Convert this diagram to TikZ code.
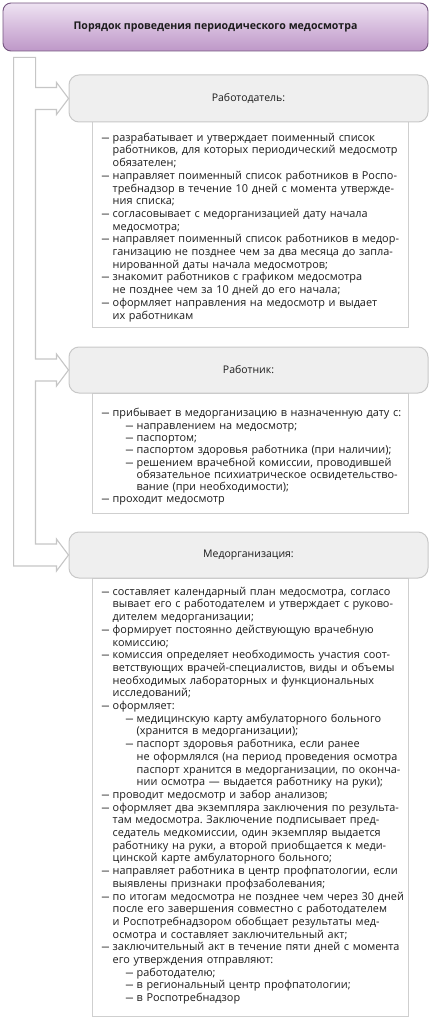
\documentclass[tikz,border=0pt]{standalone}
\usepackage{fontspec}
\setmainfont{Open Sans}
\usetikzlibrary{calc}
\frenchspacing
\definecolor{ttop}{HTML}{EEE3F2}
\definecolor{tmid}{HTML}{D6BCDD}
\definecolor{tbot}{HTML}{BE98C8}
\definecolor{tline}{HTML}{74557F}
\definecolor{hfill}{HTML}{EFEFEF}
\definecolor{hline}{HTML}{C8C8C8}
\definecolor{cline}{HTML}{CFCFCF}
\definecolor{bandline}{HTML}{C6C6C6}
\definecolor{txt}{HTML}{1C1C1C}
\newcommand\mydash{\makebox[11pt][l]{\scalebox{0.72}[1]{—}}}
\newcommand\myitem{\par\hangindent=11pt\hangafter=1\noindent\mydash}
\newcommand\mysub{\par\hangindent=35pt\hangafter=1\noindent\hspace{24pt}\mydash}
\newcommand\br{\hfil\break}
\tikzset{
  titlebox/.style={draw=tline, line width=0.9pt, rounded corners=8pt, top color=ttop, bottom color=tbot, middle color=tmid, minimum width=425pt, minimum height=48pt, inner sep=0pt, text=txt, font=\bfseries\fontsize{10.6}{13}\selectfont},
  headbox/.style={draw=hline, line width=1pt, rounded corners=10pt, fill=hfill, minimum width=359pt, inner sep=0pt, text=txt, font=\fontsize{10.5}{13}\selectfont},
  contentbox/.style={draw=cline, line width=1pt, fill=white, minimum width=316pt, inner sep=0pt},
  listtext/.style={anchor=base west, inner sep=0pt, text width=310pt, text=txt, font=\fontsize{10.9}{12.7}\selectfont},
  band/.style={draw=bandline, line width=1.1pt, fill=white, line join=miter}
}
\begin{document}
\begin{tikzpicture}[x=1pt,y=-1pt]
\useasboundingbox (0,0) rectangle (434,1022);
\node[titlebox] (title) at (215.5,27) {Порядок проведения периодического медосмотра};

\node[contentbox, minimum height=205pt] (c1) at (250,224.5) {};
\node[contentbox, minimum height=120pt] (c2) at (250,453) {};
\node[contentbox, minimum height=438pt] (c3) at (250,797) {};

\node[headbox, minimum height=47pt] (h1) at (248.5,98.5) {Работодатель:};
\node[headbox, minimum height=46pt] (h2) at (248.5,370) {Работник:};
\node[headbox, minimum height=46pt] (h3) at (248.5,555) {Медорганизация:};

\coordinate (bandtop) at ($(title.south west)+(11,6)$);
\draw[band] (bandtop) -- ++(22,0)
  |- ($(h1.west)+(-12,-11)$) -- ($(h1.west)+(-12,-16)$) -- (h1.west)
  -- ($(h1.west)+(-12,16)$) -- ($(h1.west)+(-12,11)$) -- ($(h1.west)+(-33,11)$)
  |- ($(h2.west)+(-12,-11)$) -- ($(h2.west)+(-12,-16)$) -- (h2.west)
  -- ($(h2.west)+(-12,16)$) -- ($(h2.west)+(-12,11)$) -- ($(h2.west)+(-33,11)$)
  |- ($(h3.west)+(-12,-11)$) -- ($(h3.west)+(-12,-16)$) -- (h3.west)
  -- ($(h3.west)+(-12,16)$) -- ($(h3.west)+(-12,11)$)
  -| (bandtop) -- cycle;

\node[listtext] (t1) at ($(c1.north west)+(10,7)$) {%
\myitem разрабатывает и утверждает поименный список\br работников, для которых периодический медосмотр\br обязателен;
\myitem направляет поименный список работников в Роспо-\br требнадзор в течение 10 дней с момента утвержде-\br ния списка;
\myitem согласовывает с медорганизацией дату начала\br медосмотра;
\myitem направляет поименный список работников в медор-\br ганизацию не позднее чем за два месяца до запла-\br нированной даты начала медосмотров;
\myitem знакомит работников с графиком медосмотра\br не позднее чем за 10 дней до его начала;
\myitem оформляет направления на медосмотр и выдает\br их работникам\par};

\node[listtext, font=\fontsize{10.9}{12.3}\selectfont] (t2) at ($(c2.north west)+(10,12)$) {%
\myitem прибывает в медорганизацию в назначенную дату с:
\mysub направлением на медосмотр;
\mysub паспортом;
\mysub паспортом здоровья работника (при наличии);
\mysub решением врачебной комиссии, проводившей\br обязательное психиатрическое освидетельство-\br вание (при необходимости);
\myitem проходит медосмотр\par};

\node[listtext] (t3) at ($(c3.north west)+(10,5)$) {%
\myitem составляет календарный план медосмотра, согласо\br вывает его с работодателем и утверждает с руково-\br дителем медорганизации;
\myitem формирует постоянно действующую врачебную\br комиссию;
\myitem комиссия определяет необходимость участия соот-\br ветствующих врачей-специалистов, виды и объемы\br необходимых лабораторных и функциональных\br исследований;
\myitem оформляет:
\mysub медицинскую карту амбулаторного больного\br (хранится в медорганизации);
\mysub паспорт здоровья работника, если ранее\br не оформлялся (на период проведения осмотра\br паспорт хранится в медорганизации, по оконча-\br нии осмотра — выдается работнику на руки);
\myitem проводит медосмотр и забор анализов;
\myitem оформляет два экземпляра заключения по результа-\br там медосмотра. Заключение подписывает пред-\br седатель медкомиссии, один экземпляр выдается\br работнику на руки, а второй приобщается к меди-\br цинской карте амбулаторного больного;
\myitem направляет работника в центр профпатологии, если\br выявлены признаки профзаболевания;
\myitem по итогам медосмотра не позднее чем через 30 дней\br после его завершения совместно с работодателем\br и Роспотребнадзором обобщает результаты мед-\br осмотра и составляет заключительный акт;
\myitem заключительный акт в течение пяти дней с момента\br его утверждения отправляют:
\mysub работодателю;
\mysub в региональный центр профпатологии;
\mysub в Роспотребнадзор\par};
\end{tikzpicture}
\end{document}
